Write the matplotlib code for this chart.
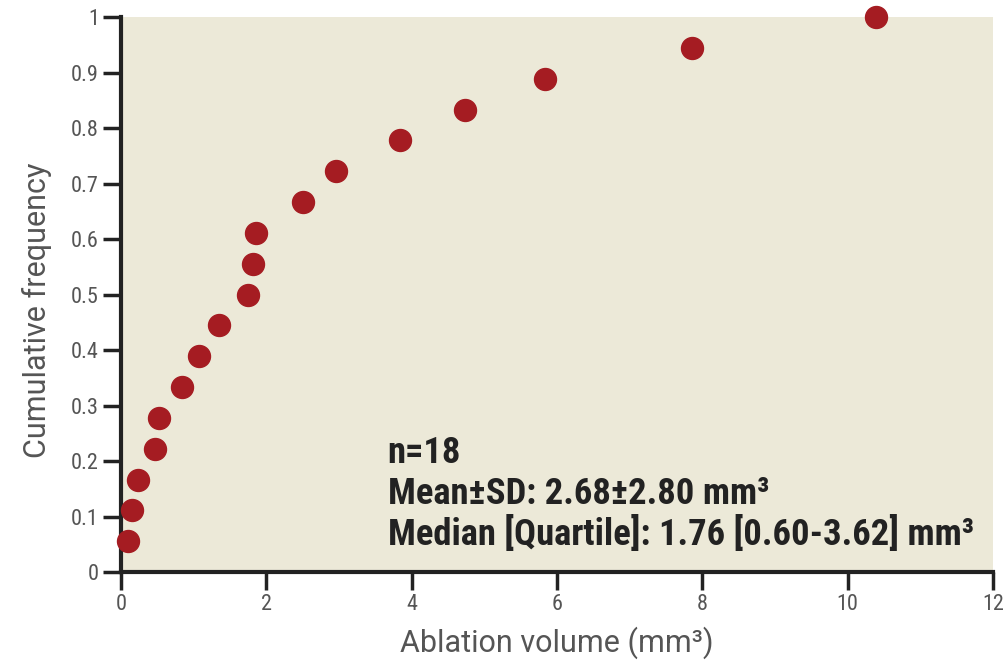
import matplotlib
matplotlib.use('Agg')
import matplotlib.pyplot as plt
from matplotlib import font_manager

# cumulative distribution of ablation volume
volume = [0.10, 0.15, 0.23, 0.47, 0.52, 0.84, 1.07, 1.35, 1.75,
          1.81, 1.86, 2.50, 2.96, 3.84, 4.74, 5.84, 7.86, 10.39]
n = len(volume)
freq = [(i + 1) / n for i in range(n)]

xticks = [0, 2, 4, 6, 8, 10, 12]
yticks = [0, 0.1, 0.2, 0.3, 0.4, 0.5, 0.6, 0.7, 0.8, 0.9, 1]
ytick_labels = ['0', '0.1', '0.2', '0.3', '0.4', '0.5', '0.6', '0.7', '0.8', '0.9', '1']

stats_lines = ['n=18',
               'Mean\u00b1SD: 2.68\u00b12.80 mm\u00b3',
               'Median [Quartile]: 1.76 [0.60-3.62] mm\u00b3']

names = {f.name for f in font_manager.fontManager.ttflist}
fam = 'DejaVu Sans'
for cand in ['Roboto Condensed', 'Liberation Sans Narrow']:
    if cand in names:
        fam = cand
        break
label_fam = 'Roboto' if 'Roboto' in names else 'DejaVu Sans'
plt.rcParams['font.family'] = [fam, 'DejaVu Sans']

fig = plt.figure(figsize=(10.05, 6.6), dpi=100)
ax = fig.add_axes([0.1204, 0.1333, 0.8676, 0.8409])
ax.set_facecolor('#ece9d8')

ax.scatter(volume, freq, s=250, color='#a51c22', zorder=3, clip_on=False)

ax.set_xlim(0, 12)
ax.set_ylim(0, 1)
ax.set_xticks(xticks)
ax.set_yticks(yticks)
ax.set_yticklabels(ytick_labels)
ax.tick_params(axis='both', direction='out', length=13, width=2.5, colors='#222222',
               labelsize=16, labelcolor='#555555', pad=3)
for s in ['top', 'right']:
    ax.spines[s].set_visible(False)
for s in ['left', 'bottom']:
    ax.spines[s].set_linewidth(3)
    ax.spines[s].set_color('#222222')

ax.set_xlabel('Ablation volume (mm\u00b3)', fontsize=22, color='#555555',
              labelpad=8, family=[label_fam, 'DejaVu Sans'])
ax.set_ylabel('Cumulative frequency', fontsize=22, color='#555555',
              family=[label_fam, 'DejaVu Sans'])
ax.yaxis.set_label_coords(-0.079, 0.472)

texts = []
for i, line in enumerate(stats_lines):
    texts.append(ax.text(3.67, 0.214 - i * 0.073, line, fontsize=24, fontweight='bold',
                         color='#222222', va='center', ha='left'))

# scale the stats block so the longest line spans the same width as the original
fig.canvas.draw()
w = texts[-1].get_window_extent().width
for t in texts:
    t.set_fontsize(24 * 588 / w)

fig.savefig('out.png', dpi=100)
